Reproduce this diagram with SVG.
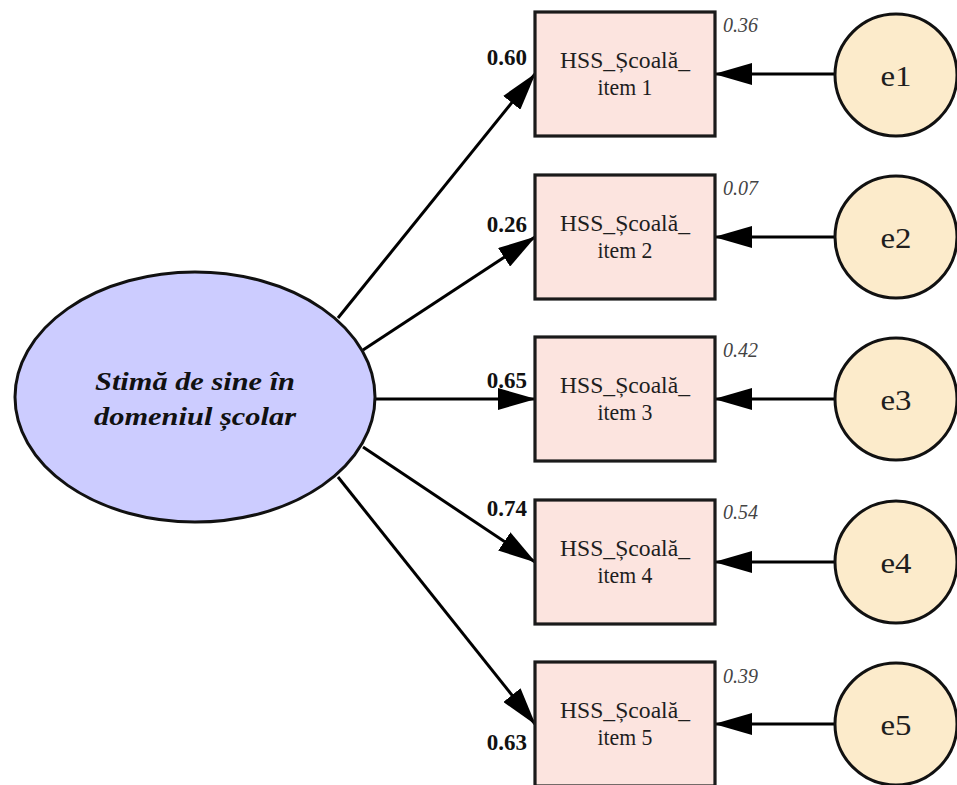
<svg xmlns="http://www.w3.org/2000/svg" width="957" height="785" viewBox="0 0 957 785">
  <style>
    .latent { fill: #CCCCFF; stroke: #111; stroke-width: 3; }
    .obs { fill: #FCE4DF; stroke: #1a1a1a; stroke-width: 3.2; }
    .err { fill: #FCEBCB; stroke: #111; stroke-width: 3; }
    .edge { stroke: #000; stroke-width: 3; fill: none; marker-end: url(#head); }
    .t { font-family: "Liberation Serif", "Times New Roman", serif; fill: #1e1e1e; }
    .lat { font-size: 26px; font-weight: bold; font-style: italic; text-anchor: middle; fill: #111; }
    .box { font-size: 23px; text-anchor: middle; }
    .coef { font-size: 23px; font-weight: bold; text-anchor: end; fill: #111; }
    .var { font-size: 20px; font-style: italic; fill: #444; }
    .e { font-size: 30px; text-anchor: middle; }
  </style>
  <defs>
    <marker id="head" markerUnits="userSpaceOnUse" markerWidth="38" markerHeight="22" refX="37" refY="11" orient="auto">
      <path d="M0,0 L38,11 L0,22 z" fill="#000"/>
    </marker>
  </defs>
  <rect width="957" height="785" fill="#fff"/>

  <!-- loadings and error paths -->
  <g id="connectors">
    <line class="edge" x1="338" y1="318" x2="535" y2="74"/>
    <line class="edge" x1="363" y1="350" x2="535" y2="237"/>
    <line class="edge" x1="374" y1="399" x2="535" y2="399"/>
    <line class="edge" x1="363" y1="447" x2="535" y2="562"/>
    <line class="edge" x1="338" y1="477" x2="535" y2="724"/>
    <line class="edge" x1="835" y1="74" x2="715" y2="74"/>
    <line class="edge" x1="835" y1="237" x2="715" y2="237"/>
    <line class="edge" x1="835" y1="399" x2="715" y2="399"/>
    <line class="edge" x1="835" y1="562" x2="715" y2="562"/>
    <line class="edge" x1="835" y1="724" x2="715" y2="724"/>
  </g>

  <g id="factor">
    <ellipse class="latent" cx="195" cy="397" rx="180" ry="125"/>
    <text class="t lat" x="195" y="390" textLength="200" lengthAdjust="spacingAndGlyphs">Stimă de sine în</text>
    <text class="t lat" x="195" y="425" textLength="202" lengthAdjust="spacingAndGlyphs">domeniul școlar</text>
  </g>

  <g id="item1">
    <rect class="obs" x="535" y="12" width="180" height="124"/>
    <text class="t box" x="625" y="68" textLength="130" lengthAdjust="spacingAndGlyphs">HSS_Școală_</text>
    <text class="t box" x="625" y="95" textLength="55" lengthAdjust="spacingAndGlyphs">item 1</text>
    <text class="t coef" x="527" y="65">0.60</text>
    <text class="t var" x="723" y="32">0.36</text>
  </g>
  <g id="item2">
    <rect class="obs" x="535" y="175" width="180" height="124"/>
    <text class="t box" x="625" y="231" textLength="130" lengthAdjust="spacingAndGlyphs">HSS_Școală_</text>
    <text class="t box" x="625" y="258" textLength="55" lengthAdjust="spacingAndGlyphs">item 2</text>
    <text class="t coef" x="527" y="232">0.26</text>
    <text class="t var" x="723" y="195">0.07</text>
  </g>
  <g id="item3">
    <rect class="obs" x="535" y="337" width="180" height="124"/>
    <text class="t box" x="625" y="393" textLength="130" lengthAdjust="spacingAndGlyphs">HSS_Școală_</text>
    <text class="t box" x="625" y="420" textLength="55" lengthAdjust="spacingAndGlyphs">item 3</text>
    <text class="t coef" x="527" y="388">0.65</text>
    <text class="t var" x="723" y="357">0.42</text>
  </g>
  <g id="item4">
    <rect class="obs" x="535" y="500" width="180" height="124"/>
    <text class="t box" x="625" y="556" textLength="130" lengthAdjust="spacingAndGlyphs">HSS_Școală_</text>
    <text class="t box" x="625" y="583" textLength="55" lengthAdjust="spacingAndGlyphs">item 4</text>
    <text class="t coef" x="527" y="516">0.74</text>
    <text class="t var" x="723" y="519">0.54</text>
  </g>
  <g id="item5">
    <rect class="obs" x="535" y="662" width="180" height="124"/>
    <text class="t box" x="625" y="718" textLength="130" lengthAdjust="spacingAndGlyphs">HSS_Școală_</text>
    <text class="t box" x="625" y="745" textLength="55" lengthAdjust="spacingAndGlyphs">item 5</text>
    <text class="t coef" x="527" y="750">0.63</text>
    <text class="t var" x="723" y="683">0.39</text>
  </g>

  <g id="e1"><circle class="err" cx="896" cy="75" r="61"/><text class="t e" x="896" y="86" textLength="31" lengthAdjust="spacingAndGlyphs">e1</text></g>
  <g id="e2"><circle class="err" cx="896" cy="237" r="61"/><text class="t e" x="896" y="248" textLength="31" lengthAdjust="spacingAndGlyphs">e2</text></g>
  <g id="e3"><circle class="err" cx="896" cy="399" r="61"/><text class="t e" x="896" y="410" textLength="31" lengthAdjust="spacingAndGlyphs">e3</text></g>
  <g id="e4"><circle class="err" cx="896" cy="562" r="61"/><text class="t e" x="896" y="573" textLength="31" lengthAdjust="spacingAndGlyphs">e4</text></g>
  <g id="e5"><circle class="err" cx="896" cy="724" r="61"/><text class="t e" x="896" y="735" textLength="31" lengthAdjust="spacingAndGlyphs">e5</text></g>
</svg>
